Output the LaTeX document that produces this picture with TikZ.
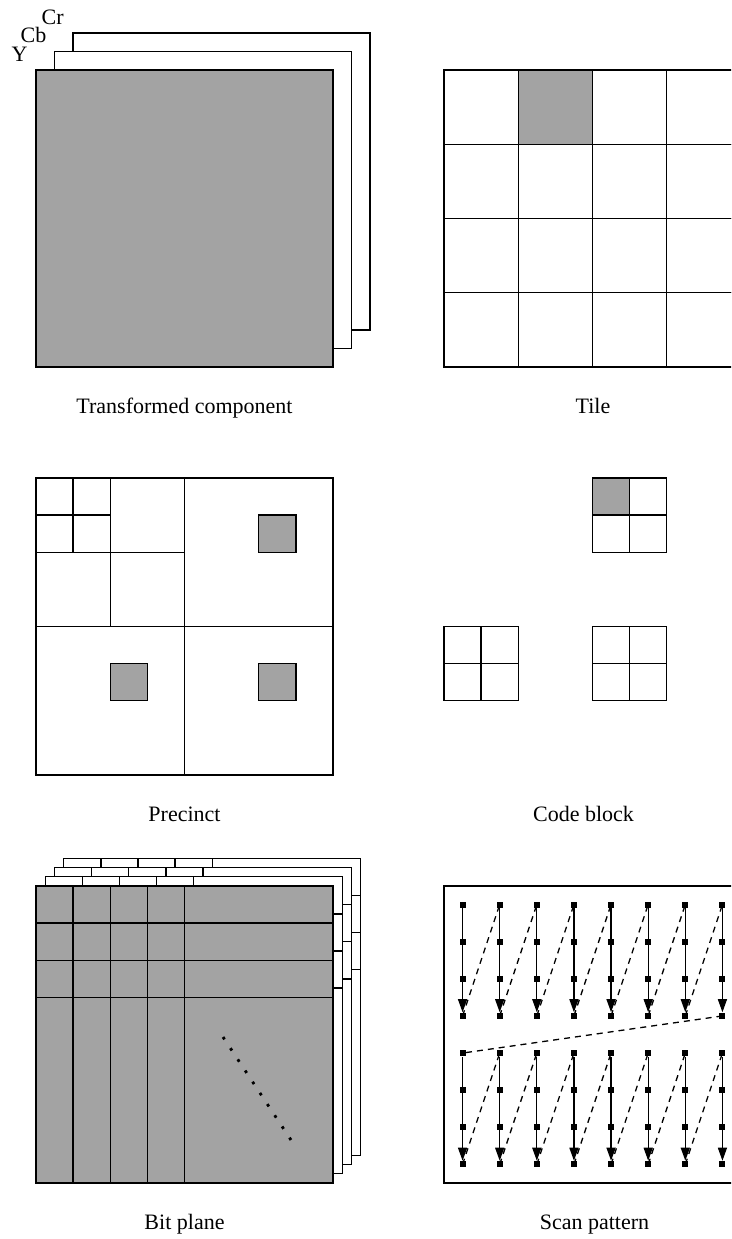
\documentclass[tikz,border=0pt]{standalone}
\usepackage{fontspec}
\setmainfont{Liberation Serif}
\usetikzlibrary{arrows.meta}
\definecolor{planegray}{RGB}{163,163,163}
\begin{document}
\begin{tikzpicture}[x=1pt,y=-1pt, line width=1.4pt,
  box/.style={draw=black},
  graybox/.style={draw=black, fill=planegray},
  caption/.style={font=\fontsize{22}{24}\selectfont, anchor=base, inner sep=0pt},
  chan/.style={font=\fontsize{22}{24}\selectfont, anchor=base west, inner sep=0pt},
  pt/.style={fill=black, draw=none, minimum size=6pt, inner sep=0pt, rectangle},
  scanarrow/.style={-{Triangle[length=13pt,width=9pt]}, line width=1.3pt},
  scandash/.style={dash pattern=on 6pt off 5pt, line width=1.3pt},
  dotline/.style={line width=2.8pt, dash pattern=on 2.8pt off 10.6pt},
]
\useasboundingbox (0,0) rectangle (731,1239);
\clip (0,0) rectangle (731,1239);

% ---------- Transformed component ----------
\draw[box, fill=white] (73,33) rectangle (370,330);
\draw[box, fill=white] (54.5,51.5) rectangle (351.5,348.5);
\draw[graybox] (36,70) rectangle (333,367);
\node[chan] (lY) at (11,62) {Y};
\node[chan] (lCb) at (20,43) {Cb};
\node[chan] (lCr) at (41,25) {Cr};
\node[caption] (capTC) at (184.5,413.5) {Transformed component};

% ---------- Tile ----------
\fill[planegray] (518.25,70) rectangle ++(74.25,74.25);
\foreach \i in {0,...,3}
  \foreach \j in {0,...,3}
    \draw[box] (444+74.25*\i, 70+74.25*\j) rectangle ++(74.25,74.25);
\node[caption] (capTile) at (593,413.5) {Tile};

% ---------- Precinct ----------
\draw[box] (36,478) rectangle (333,775);
\draw (184.5,478) -- (184.5,775);
\draw (36,626.5) -- (333,626.5);
\draw (110.25,478) -- (110.25,626.5);
\draw (36,552.25) -- (184.5,552.25);
\draw (73.1,478) -- (73.1,552.25);
\draw (36,515.1) -- (110.25,515.1);
\draw[graybox] (258.75,515.1) rectangle ++(37.125,37.125);
\draw[graybox] (110.25,663.6) rectangle ++(37.125,37.125);
\draw[graybox] (258.75,663.6) rectangle ++(37.125,37.125);
\node[caption] (capPrec) at (184.5,821.5) {Precinct};

% ---------- Code block ----------
\fill[planegray] (592.5,478) rectangle ++(37.125,37.125);
\foreach \bx/\by in {592.5/478, 444/626.5, 592.5/626.5} {
  \draw[box] (\bx,\by) rectangle ++(74.25,74.25);
  \draw (\bx+37.125,\by) -- ++(0,74.25);
  \draw (\bx,\by+37.125) -- ++(74.25,0);
}
\node[caption] (capCode) at (583.5,821.5) {Code block};

% ---------- Bit plane ----------
\foreach \k/\f in {3/white,2/white,1/white,0/planegray} {
  \pgfmathsetmacro{\o}{9.25*\k}
  \draw[box, fill=\f] (36+\o,886-\o) rectangle ++(297,297);
  \foreach \v in {1,...,4}
    \draw (36+\o+37.125*\v, 886-\o) -- ++(0,297);
  \foreach \h in {1,2,3}
    \draw (36+\o, 886-\o+37.125*\h) -- ++(297,0);
}
\draw[dotline] (223,1037) -- (291,1140);
\node[caption] (capBit) at (184.5,1229) {Bit plane};

% ---------- Scan pattern ----------
\draw[box] (444,886) rectangle (741,1183);
\foreach \c in {0,...,7}
  \foreach \r in {0,...,7}
    \node[pt] (s-\c-\r) at (444+18.56+37.125*\c, 886+18.56+37.125*\r) {};
\foreach \c in {0,...,7} {
  \draw[scanarrow] (s-\c-0) -- (s-\c-3);
  \draw[scanarrow] (s-\c-4) -- (s-\c-7);
}
\foreach \c [evaluate=\c as \n using {int(\c+1)}] in {0,...,6} {
  \draw[scandash] (s-\c-3.center) -- (s-\n-0.center);
  \draw[scandash] (s-\c-7.center) -- (s-\n-4.center);
}
\draw[scandash] (s-7-3.center) -- (s-0-4.center);
\node[caption] (capScan) at (594.5,1229) {Scan pattern};
\end{tikzpicture}
\end{document}
